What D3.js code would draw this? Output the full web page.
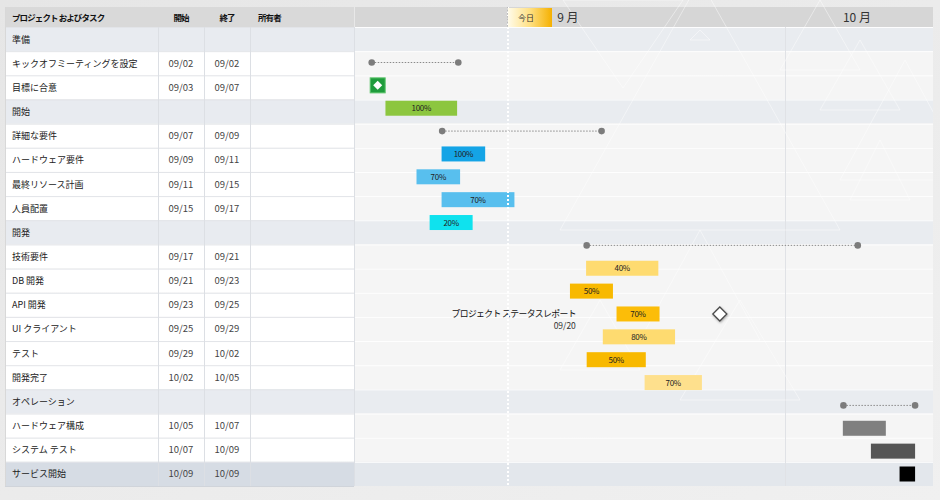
<!DOCTYPE html>
<html><head><meta charset="utf-8">
<script src="https://cdn.jsdelivr.net/npm/d3@7/dist/d3.min.js"></script>
<style>
html,body{margin:0;padding:0;background:#ececec;}
svg{display:block;font-family:"Noto Sans CJK JP","Noto Sans",sans-serif;}
</style></head>
<body><svg id="c" width="940" height="500"></svg>
<script>
// ---------- DATA ----------
const headers = ["プロジェクト およびタスク", "開始", "終了", "所有者"];
const taskNames = ["準備","キックオフミーティングを設定","目標に合意","開始","詳細な要件","ハードウェア要件","最終リソース計画","人員配置","開発","技術要件","DB 開発","API 開発","UI クライアント","テスト","開発完了","オペレーション","ハードウェア構成","システム テスト","サービス開始"];
const taskStart = ["","09/02","09/03","","09/07","09/09","09/11","09/15","","09/17","09/21","09/23","09/25","09/29","10/02","","10/05","10/07","10/09"];
const taskEnd   = ["","09/02","09/07","","09/09","09/11","09/15","09/17","","09/21","09/23","09/25","09/29","10/02","10/05","","10/07","10/09","10/09"];
const rowKind   = ["group","task","task","group","task","task","task","task","group","task","task","task","task","task","task","group","task","task","last"];

// chart items (timeline), in vertical order
const itemType  = ["summary","milestoneGreen","bar","summary","bar","bar","bar","bar","summary","bar","bar","bar","bar","bar","bar","summary","bar","bar","bar"];
const itemStart = ["2024-09-02 04:00","2024-09-02 14:00","2024-09-03 03:00","2024-09-07 02:00","2024-09-07 01:00","2024-09-05 07:00","2024-09-07 01:00","2024-09-06 05:00","2024-09-17 04:00","2024-09-17 03:00","2024-09-16 00:00","2024-09-19 06:00","2024-09-18 07:00","2024-09-17 04:00","2024-09-21 05:00","2024-10-05 02:00","2024-10-05 01:00","2024-10-07 00:00","2024-10-09 00:00"];
const itemEnd   = ["2024-09-08 05:00","2024-09-02 14:00","2024-09-08 03:00","2024-09-18 05:00","2024-09-10 02:00","2024-09-08 08:00","2024-09-12 03:00","2024-09-09 05:00","2024-10-06 02:00","2024-09-22 04:00","2024-09-19 00:00","2024-09-22 06:00","2024-09-23 08:00","2024-09-21 07:00","2024-09-25 05:00","2024-10-10 02:00","2024-10-08 01:00","2024-10-10 02:00","2024-10-10 02:00"];
const itemPct   = [null,null,"100%",null,"100%","70%","70%","20%",null,"40%","50%","70%","80%","50%","70%",null,"","",""];
const itemColor = [null,"#1f9c3c","#8cc63f",null,"#14a4e6","#58bfee","#58bfee","#0fe2ee",null,"#fedb70","#f8b900","#fcbd08","#fedb70","#f8b900","#fee08d",null,"#7f7f7f","#555555","#000000"];

const statusMilestone = {item: 11, date: "2024-09-26 11:00", title: "プロジェクト ステータスレポート", date_label: "09/20"};
const todayDate = "2024-09-11 17:00";
const todayLabel = "今日";
const months = [{label:"9 月", start:"2024-09-01 00:00"},{label:"10 月", start:"2024-10-01 00:00"}];
const timeDomain = ["2024-09-01 00:00","2024-10-11 08:00"];

// ---------- LAYOUT ----------
const parse = d3.timeParse("%Y-%m-%d %H:%M");
const svg = d3.select("#c");
const colX = [5,158,204,250,354];
const chartL = 355, chartR = 933, headT = 7, headB = 27, bodyB = 486;

const rowY = d3.scaleBand().domain(d3.range(taskNames.length)).range([headB, bodyB]);
const itemY = d3.scalePoint().domain(d3.range(itemType.length)).range([62.5, 474]);
const x = d3.scaleTime().domain(timeDomain.map(parse)).range([chartL, chartR]);

const defs = svg.append("defs");
const bgGrad = defs.append("linearGradient").attr("id","bg").attr("x1",0).attr("x2",1).attr("y1",0).attr("y2",1);
bgGrad.append("stop").attr("offset",0).attr("stop-color","#e6e6e6");
bgGrad.append("stop").attr("offset",1).attr("stop-color","#f0f0f0");
svg.append("rect").attr("width",940).attr("height",500).attr("fill","url(#bg)");

const tg = defs.append("linearGradient").attr("id","today").attr("x1",0).attr("x2",1);
tg.append("stop").attr("offset",0).attr("stop-color","#fffbea");
tg.append("stop").attr("offset",0.5).attr("stop-color","#ffe082");
tg.append("stop").attr("offset",1).attr("stop-color","#f5b000");
const sh = defs.append("filter").attr("id","sh").attr("x",-0.5).attr("y",-0.5).attr("width",2).attr("height",2);
sh.append("feDropShadow").attr("dx",0.5).attr("dy",1).attr("stdDeviation",1).attr("flood-color","#000").attr("flood-opacity",0.35);
defs.append("clipPath").attr("id","chartClip").append("rect").attr("x",chartL).attr("y",0).attr("width",chartR-chartL).attr("height",bodyB);

// ---------- TABLE ----------
const tbl = svg.append("g");
tbl.append("rect").attr("x",colX[0]).attr("y",headT).attr("width",colX[4]-colX[0]).attr("height",headB-headT).attr("fill","#d9d9d9");
const headAnchor = ["start","middle","middle","start"];
const headPos = [12, (colX[1]+colX[2])/2, (colX[2]+colX[3])/2, 258];
tbl.selectAll("text.h").data(headers).join("text")
  .attr("x",(d,i)=>headPos[i]).attr("y",(headT+headB)/2+3.5)
  .attr("text-anchor",(d,i)=>headAnchor[i])
  .attr("font-size",8.5).attr("letter-spacing",-0.9).attr("font-weight","bold").attr("fill","#111").text(d=>d);

const rowFill = {group:"#e8ebf0", task:"#ffffff", last:"#d6dce4"};
const rows = tbl.selectAll("g.row").data(taskNames).join("g");
rows.append("rect").attr("x",colX[0]).attr("y",(d,i)=>rowY(i)).attr("width",colX[4]-colX[0]).attr("height",rowY.bandwidth())
  .attr("fill",(d,i)=>rowFill[rowKind[i]]);
rows.append("line").attr("x1",colX[0]).attr("x2",colX[4]).attr("y1",(d,i)=>rowY(i)+0.5).attr("y2",(d,i)=>rowY(i)+0.5)
  .attr("stroke","#e2e4e8");
rows.append("text").attr("x",12).attr("y",(d,i)=>rowY(i)+rowY.bandwidth()/2+3.5)
  .attr("font-size",9).attr("fill","#222").text(d=>d);
rows.append("text").attr("x",(colX[1]+colX[2])/2).attr("y",(d,i)=>rowY(i)+rowY.bandwidth()/2+3.5)
  .attr("text-anchor","middle").attr("font-size",9.5).attr("fill","#444").text((d,i)=>taskStart[i]);
rows.append("text").attr("x",(colX[2]+colX[3])/2).attr("y",(d,i)=>rowY(i)+rowY.bandwidth()/2+3.5)
  .attr("text-anchor","middle").attr("font-size",9.5).attr("fill","#444").text((d,i)=>taskEnd[i]);
colX.slice(1).forEach(cx=>{
  tbl.append("line").attr("x1",cx+0.5).attr("x2",cx+0.5).attr("y1",headB).attr("y2",bodyB).attr("stroke","#dcdfe4");
});
tbl.append("line").attr("x1",colX[0]+0.5).attr("x2",colX[0]+0.5).attr("y1",headT).attr("y2",bodyB).attr("stroke","#d8d8d8");
tbl.append("line").attr("x1",colX[0]).attr("x2",colX[4]).attr("y1",bodyB+0.5).attr("y2",bodyB+0.5).attr("stroke","#d0d4da");

// ---------- CHART BACKGROUND ----------
const ch = svg.append("g");
ch.append("rect").attr("x",chartL).attr("y",headT).attr("width",chartR-chartL).attr("height",headB-headT).attr("fill","#d6d6d6");
const chartRowFill = {group:"#e9ecf0", task:"#f5f5f5", last:"#e3e7ec"};
ch.selectAll("rect.cr").data(taskNames).join("rect")
  .attr("x",chartL).attr("y",(d,i)=>rowY(i)).attr("width",chartR-chartL).attr("height",rowY.bandwidth())
  .attr("fill",(d,i)=>chartRowFill[rowKind[i]]);
ch.selectAll("line.cr").data(taskNames).join("line")
  .attr("x1",chartL).attr("x2",chartR).attr("y1",(d,i)=>rowY(i)+0.5).attr("y2",(d,i)=>rowY(i)+0.5)
  .attr("stroke","#ffffff").attr("stroke-opacity",0.9);
// month boundary gridline
ch.selectAll("line.mg").data(months.slice(1)).join("line")
  .attr("x1",d=>Math.round(x(parse(d.start)))+0.5).attr("x2",d=>Math.round(x(parse(d.start)))+0.5)
  .attr("y1",headB).attr("y2",bodyB).attr("stroke","#e0e2e6");

// decorative faint triangles
const deco = ch.append("g").attr("clip-path","url(#chartClip)").attr("fill","none").attr("stroke","#ffffff").attr("stroke-width",1).attr("stroke-opacity",0.45);
const tris = [
  [[563,0],[683,0],[623,88]],
  [[700,-20],[560,230],[840,230]],
  [[700,30],[690,40],[710,40]],
  [[905,60],[840,180],[970,180]],
  [[860,40],[820,110],[900,110]],
  [[700,230],[640,340],[760,340]],
  [[740,300],[680,400],[800,400]],
  [[600,300],[560,370],[640,370]],
  [[820,0],[780,70],[860,70]],
  [[880,140],[850,200],[910,200]]
];
deco.selectAll("path").data(tris).join("path").attr("d",d=>"M"+d.join("L")+"Z");

// month labels (centered on the visible part of each month)
const xd = x.domain();
ch.selectAll("text.m").data(months).join("text")
  .attr("x",(d,i)=>{
    const s = d3.max([parse(d.start), xd[0]]);
    const e = i<months.length-1 ? parse(months[i+1].start) : xd[1];
    return (x(s)+x(e))/2 - 2;
  })
  .attr("y",(headT+headB)/2+4.5).attr("text-anchor","middle").attr("font-size",12).attr("fill","#333").text(d=>d.label);

// ---------- ITEMS ----------
const items = svg.append("g");
const barH = 15;
itemType.forEach((t,i)=>{
  const y = itemY(i);
  const s = x(parse(itemStart[i])), e = x(parse(itemEnd[i]));
  if (t==="summary"){
    items.append("line").attr("x1",s).attr("x2",e).attr("y1",y).attr("y2",y)
      .attr("stroke","#8a8a8a").attr("stroke-width",1).attr("stroke-dasharray","1.5,1.5");
    items.selectAll(null).data([s,e]).join("circle").attr("cx",d=>d).attr("cy",y).attr("r",3.3).attr("fill","#7c7c7c");
  } else if (t==="milestoneGreen"){
    items.append("rect").attr("x",s-7.5).attr("y",y-7.5).attr("width",15).attr("height",15)
      .attr("fill",itemColor[i]).attr("stroke","#5cc46a").attr("stroke-width",1);
    items.append("path").attr("d",`M${s},${y-4.5}L${s+4.5},${y}L${s},${y+4.5}L${s-4.5},${y}Z`).attr("fill","#fff");
  } else {
    items.append("rect").attr("x",s).attr("y",y-barH/2).attr("width",e-s).attr("height",barH).attr("fill",itemColor[i]);
    if (itemPct[i]) items.append("text").attr("x",(s+e)/2).attr("y",y+3).attr("text-anchor","middle")
      .attr("font-size",8).attr("fill","#222").attr("letter-spacing",-0.3).text(itemPct[i]);
  }
});

// status milestone
{
  const y = itemY(statusMilestone.item), mx = x(parse(statusMilestone.date)), r = 7;
  items.append("path").attr("d",`M${mx},${y-r}L${mx+r},${y}L${mx},${y+r}L${mx-r},${y}Z`)
    .attr("fill","#fff").attr("stroke","#4a4a4a").attr("stroke-width",1.3).attr("filter","url(#sh)");
  const lx = mx - 144;
  items.append("text").attr("x",lx).attr("y",y+3.5).attr("text-anchor","end").attr("font-size",8.8).attr("letter-spacing",-0.6).attr("fill","#111").text(statusMilestone.title);
  items.append("text").attr("x",lx).attr("y",y+15).attr("text-anchor","end").attr("font-size",8.5).attr("fill","#333").text(statusMilestone.date_label);
}

// today marker
{
  const tx = Math.round(x(parse(todayDate)));
  svg.append("line").attr("x1",tx).attr("x2",tx).attr("y1",headT).attr("y2",bodyB)
    .attr("stroke","#ffffff").attr("stroke-width",2).attr("stroke-dasharray","2,2");
  svg.append("line").attr("x1",tx-0.5).attr("x2",tx-0.5).attr("y1",headT).attr("y2",headB)
    .attr("stroke","#bbbbbb").attr("stroke-width",1).attr("stroke-dasharray","1.5,1.5");
  svg.append("rect").attr("x",tx).attr("y",headT+1).attr("width",44).attr("height",headB-headT-1).attr("fill","url(#today)");
  svg.append("text").attr("x",tx+10).attr("y",(headT+headB)/2+3.5).attr("font-size",8).attr("fill","#333").text(todayLabel);
}
</script></body></html>
